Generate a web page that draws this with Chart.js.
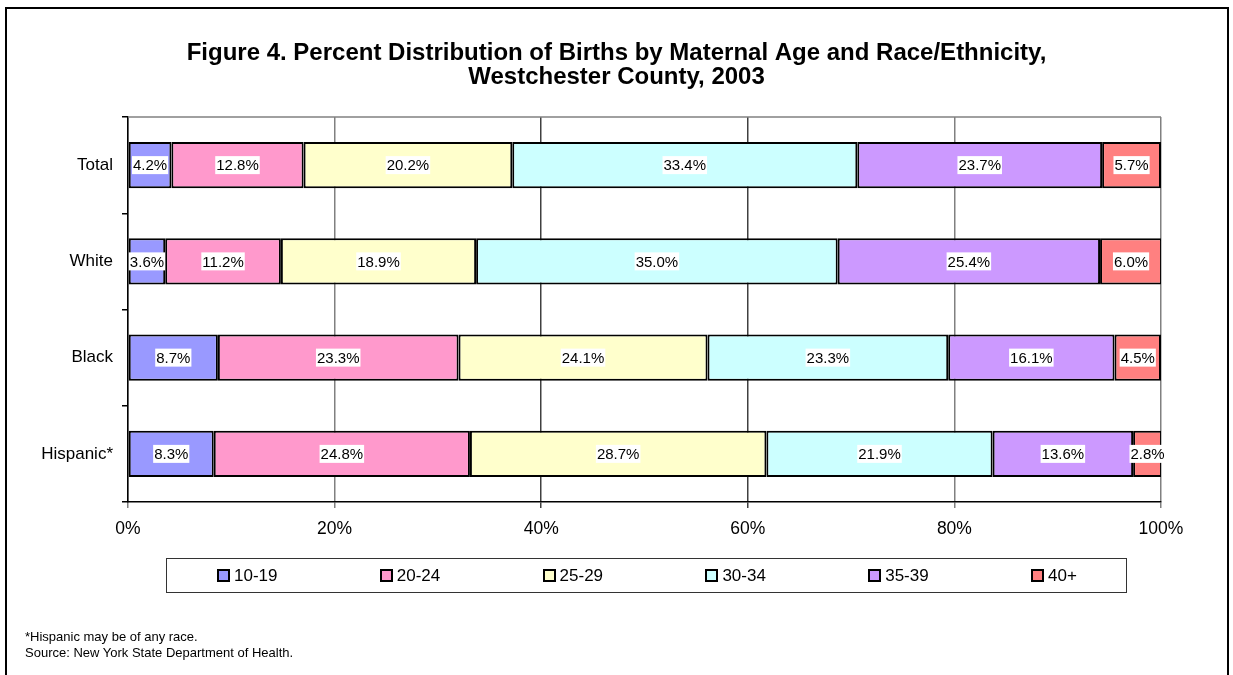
<!DOCTYPE html>
<html>
<head>
<meta charset="utf-8">
<script src="https://cdn.jsdelivr.net/npm/chart.js@4.4.1/dist/chart.umd.min.js"></script>
<style>
  html, body { margin: 0; padding: 0; background: #fff; overflow: hidden; }
  body { width: 1233px; height: 675px; position: relative; font-family: Arial, "Liberation Sans", sans-serif; }
  #frame { position: absolute; left: 5px; top: 7px; height: 700px; border: 2px solid #000; box-sizing: border-box; width: 1224px; }
  #wrap { position: absolute; left: 0; top: 0; width: 1233px; height: 675px; }
  #legend { position: absolute; left: 166px; top: 558px; width: 961px; height: 35px; border: 1.5px solid #333; box-sizing: border-box; }
  .li { position: absolute; top: 0; height: 33px; display: flex; align-items: center; font-size: 17px; color: #000; white-space: nowrap; }
  .sw { width: 9px; height: 9px; border: 2px solid #000; margin-right: 4px; }
  #notes { position: absolute; left: 25px; top: 629px; font-size: 13px; line-height: 16px; color: #000; }
</style>
</head>
<body>
<div id="frame"></div>
<div id="wrap"><canvas id="c" width="1233" height="675"></canvas></div>
<div id="legend"></div>
<div id="notes">*Hispanic may be of any race.<br>Source: New York State Department of Health.</div>
<script>
const categories = ["Total", "White", "Black", "Hispanic*"];
const ageGroups = ["10-19", "20-24", "25-29", "30-34", "35-39", "40+"];
const age10_19 = [4.2, 3.6, 8.7, 8.3];
const age20_24 = [12.8, 11.2, 23.3, 24.8];
const age25_29 = [20.2, 18.9, 24.1, 28.7];
const age30_34 = [33.4, 35.0, 23.3, 21.9];
const age35_39 = [23.7, 25.4, 16.1, 13.6];
const age40plus = [5.7, 6.0, 4.5, 2.8];
const xTicks = [0, 20, 40, 60, 80, 100];
const titleLines = ["Figure 4. Percent Distribution of Births by Maternal Age and Race/Ethnicity,", "Westchester County, 2003"];
const colors = ["#9999FF", "#FF99CC", "#FFFFCC", "#CCFFFF", "#CC99FF", "#FF8080"];

const seriesValues = [age10_19, age20_24, age25_29, age30_34, age35_39, age40plus];
const FONT = 'Arial, "Liberation Sans", sans-serif';

const datasets = ageGroups.map((g, i) => ({
  label: g,
  data: seriesValues[i],
  xAxisID: "x",
  yAxisID: "y",
  backgroundColor: colors[i],
  borderColor: "#000",
  borderWidth: 2,
  borderSkipped: false,
  barPercentage: 0.48,
  categoryPercentage: 1.0
}));

const frameLines = {
  id: "frameLines",
  beforeDatasetsDraw(chart) {
    const a = chart.chartArea, ctx = chart.ctx;
    ctx.save();
    ctx.strokeStyle = "#808080";
    ctx.lineWidth = 1.5;
    ctx.beginPath();
    ctx.moveTo(a.left, a.top);
    ctx.lineTo(a.right, a.top);
    ctx.stroke();
    ctx.restore();
  }
};

const valueLabels = {
  id: "valueLabels",
  afterDatasetsDraw(chart) {
    const ctx = chart.ctx;
    ctx.save();
    ctx.font = "15px " + FONT;
    ctx.textAlign = "center";
    ctx.textBaseline = "middle";
    chart.data.datasets.forEach((ds, di) => {
      const meta = chart.getDatasetMeta(di);
      meta.data.forEach((el, i) => {
        const v = ds.data[i];
        const txt = v.toFixed(1) + "%";
        const cx = (el.x + el.base) / 2;
        const cy = el.y;
        const w = ctx.measureText(txt).width + 2;
        const h = 18;
        ctx.fillStyle = "#fff";
        ctx.fillRect(cx - w / 2, cy - h / 2, w, h);
        ctx.fillStyle = "#000";
        ctx.fillText(txt, cx, cy + 1);
      });
    });
    ctx.restore();
  }
};

const chart = new Chart(document.getElementById("c"), {
  type: "bar",
  data: { labels: categories, datasets },
  plugins: [frameLines, valueLabels],
  options: {
    indexAxis: "y",
    responsive: false,
    animation: false,
    events: [],
    layout: { padding: { left: 0, right: 0, top: 0, bottom: 133 } },
    plugins: {
      legend: { display: false },
      tooltip: { enabled: false },
      title: {
        display: true,
        text: titleLines,
        color: "#000",
        font: { family: FONT, size: 24, weight: "bold", lineHeight: 1.0 },
        padding: { top: 41, bottom: 28 }
      }
    },
    scales: {
      x: {
        stacked: true,
        min: 0,
        max: 100,
        afterBuildTicks(scale) { scale.ticks = xTicks.map(v => ({ value: v })); },
        afterFit(scale) { scale.height = 40; },
        ticks: {
          callback: v => v + "%",
          color: "#000",
          font: { family: FONT, size: 17.5 },
          padding: 11,
          maxRotation: 0
        },
        grid: {
          color: ctx => (ctx.tick && (ctx.tick.value === 40 || ctx.tick.value === 60)) ? "#404040" : "#808080",
          lineWidth: 1.5,
          tickLength: 6,
          drawTicks: true
        },
        border: { display: true, color: "#000", width: 1.5 }
      },
      y: {
        stacked: true,
        afterFit(scale) { scale.width = 128; },
        ticks: {
          color: "#000",
          font: { family: FONT, size: 17 },
          padding: 9
        },
        grid: {
          offset: true,
          drawOnChartArea: false,
          drawTicks: true,
          tickLength: 6,
          color: "#000",
          lineWidth: 1.5
        },
        border: { display: true, color: "#000", width: 1.5 }
      },
      yRightSpace: {
        axis: "y",
        type: "category",
        position: "right",
        grid: { display: false, drawTicks: false },
        ticks: { display: false },
        border: { display: false },
        afterFit(scale) { scale.width = 72; }
      }
    }
  }
});

// HTML legend built from the chart's datasets
const legendEl = document.getElementById("legend");
chart.data.datasets.forEach((ds, i) => {
  const item = document.createElement("div");
  item.className = "li";
  item.style.left = (50 + i * 162.8) + "px";
  const sw = document.createElement("span");
  sw.className = "sw";
  sw.style.background = ds.backgroundColor;
  const t = document.createElement("span");
  t.textContent = ds.label;
  item.appendChild(sw);
  item.appendChild(t);
  legendEl.appendChild(item);
});
</script>
</body>
</html>
